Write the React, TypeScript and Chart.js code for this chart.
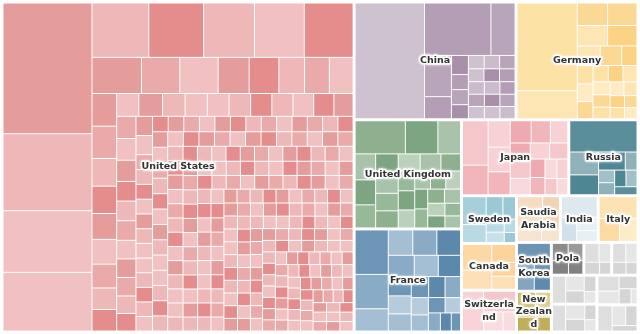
import React, { useEffect, useRef } from "react";
import { Chart, registerables } from "chart.js";

Chart.register(...registerables);

// ---------- DATA ----------
const countries = [
  "United States", "China", "Germany", "United Kingdom", "France", "Japan", "Russia",
  "Sweden", "Canada", "Switzerland", "Saudia Arabia", "India", "Italy", "South Korea",
  "New Zealand", "Poland", "Other A", "Other B", "Other C", "Other D", "Other E", "Other F",
];

const countryValues = [
  114.5, 18.79, 14.15, 11.56, 10.91, 8.03, 5.18,
  2.59, 2.53, 2.26, 2.02, 1.74, 1.83, 1.68,
  1.4, 1.05, 0.9, 0.85, 1.3, 1.25, 1.2, 1.1,
];

// text as displayed in each tile
const labelLines: string[][] = [
  ["United States"], ["China"], ["Germany"], ["United Kingdom"], ["France"], ["Japan"], ["Russia"],
  ["Sweden"], ["Canada"], ["Switzerla", "nd"], ["Saudia", "Arabia"], ["India"], ["Italy"], ["South", "Korea"],
  ["New", "Zealan", "d"], ["Pola"], [], [], [], [], [], [],
];

const unitedStatesCells = [
  11375, 6704, 5363, 5104,
  3021, 2915, 2703, 2650, 2597,
  1750, 1355, 1355, 1096, 1050, 910, 875, 840,
  790, 780, 670, 660, 625, 600, 575, 520, 520, 495,
  528, 506, 495, 484, 484, 473, 473, 462, 451, 429, 418,
  410, 400, 370, 370, 370, 350, 350, 350, 330, 330, 312, 312,
  242, 241, 241, 240, 240, 239, 239, 238, 238, 237, 237, 236, 236, 235, 235, 234, 234, 233, 233, 232, 232, 231, 231, 230, 230,
  229, 229, 228, 228, 227, 227, 226, 226, 225, 225, 224, 224, 223, 223, 222, 222, 221, 221, 220, 220, 219, 219, 218, 218, 217,
  217, 216, 216, 215, 215, 214, 214, 213, 213, 212, 212, 211, 211, 210, 210, 209, 209, 208, 208, 207, 207, 206, 206, 205, 205,
  204, 204, 203, 203, 202, 202, 201, 201, 200, 200, 199, 199, 198, 198, 197, 197, 196, 196, 195, 195, 194, 194, 193, 193, 192,
  192, 191, 191, 190, 190, 189, 189, 188, 188, 187, 187, 186, 186, 185, 185, 184, 184, 183, 183, 182, 182, 181, 181, 180, 180,
  179, 179, 178, 178, 177, 177, 176, 176, 175, 175, 174, 174, 173, 173, 172, 172, 171, 171, 170, 170, 169, 169, 168, 168, 167,
  167, 166, 166, 165, 165, 164, 164, 163, 163, 162, 162, 161, 161, 160, 160, 159, 159, 158, 158, 157, 157, 156, 156, 155, 155,
  154, 154, 153, 153, 152, 152, 151, 151, 150, 150, 149, 149, 148, 148, 147, 147, 146, 146, 145, 145, 144, 144, 143, 143, 142,
  142, 141, 141, 140, 140, 139, 139, 139, 138, 138, 137, 137, 137, 136, 136, 135, 135, 135, 134, 134, 133, 133, 133, 132, 132,
  131, 131, 131, 130, 130, 129, 129, 129, 128, 128, 127, 127, 127, 126, 126, 125, 125, 125, 124, 124, 123, 123, 123, 122, 122,
];
const chinaCells = [8004, 3476, 1262, 1107, 594, 323, 255, 255, 238, 210, 205, 205, 200, 200, 200, 200, 195, 195, 195, 190, 190, 190, 185, 185];
const germanyCells = [5280, 1680, 682, 660, 620, 600, 450, 420, 300, 290, 280, 270, 250, 240, 230, 220, 210, 200, 190, 180, 170, 160, 150, 140];
const unitedKingdomCells = [1683, 1089, 759, 540, 520, 480, 460, 440, 400, 390, 380, 360, 340, 330, 320, 300, 290, 280, 270, 260, 250, 240, 230, 220, 210, 200, 190];
const franceCells = [1496, 1156, 748, 630, 620, 610, 560, 520, 480, 450, 420, 400, 370, 350, 330, 300, 280, 260, 240, 220, 200, 170];
const japanCells = [1170, 780, 600, 560, 520, 480, 440, 400, 380, 350, 340, 320, 300, 280, 260, 240, 220, 200, 180];
const russiaCells = [2176, 680, 590, 500, 220, 210, 200, 195, 190, 185];
const swedenCells = [700, 450, 400, 300, 250, 200, 160, 120];
const canadaCells = [800, 600, 450, 350, 330];
const switzerlandCells = [900, 700, 400, 255];
const saudiArabiaCells = [900, 600, 300, 221];
const indiaCells = [800, 400, 300, 239];
const italyCells = [900, 500, 433];
const southKoreaCells = [700, 500, 480];
const newZealandCells = [500, 400, 300, 200];
const polandCells = [300, 280, 250, 224];
const otherACells = [300, 250, 200, 150];
const otherBCells = [280, 240, 180, 150];
const otherCCells = [400, 300, 250, 200, 150];
const otherDCells = [380, 300, 250, 180, 140];
const otherECells = [350, 300, 250, 200, 100];
const otherFCells = [400, 300, 250, 150];

const cellValues = [
  unitedStatesCells, chinaCells, germanyCells, unitedKingdomCells, franceCells, japanCells, russiaCells,
  swedenCells, canadaCells, switzerlandCells, saudiArabiaCells, indiaCells, italyCells, southKoreaCells,
  newZealandCells, polandCells, otherACells, otherBCells, otherCCells, otherDCells, otherECells, otherFCells,
];

// ---------- STYLE ----------
const greyPalette = ["#dedede", "#e6e6e6", "#d5d5d5", "#ececec", "#e1e1e1"];
const palettes = [
  ["#e59d9b", "#efb8b8", "#f1c0c0", "#e58d8d", "#eaaaaa"],
  ["#cec1d0", "#b49eb5", "#b9a5ba", "#a990aa", "#cbbccc"],
  ["#fde2a6", "#fde6b3", "#fbd894", "#fcd385", "#feebc4"],
  ["#8fb08f", "#7da582", "#a8c3a9", "#97b899", "#bcd1bc"],
  ["#6d96b6", "#89abc5", "#a4bfd3", "#5b88ab", "#b6ccdc"],
  ["#f5c6ca", "#f1b5ba", "#f7d1d4", "#eeaab0", "#f9dadc"],
  ["#5a8e9b", "#8eb1ba", "#4f8693", "#a2c0c7", "#6d9ca7"],
  ["#a7cfdb", "#b9dae3", "#9cc7d5", "#c8e1e9", "#add3de"],
  ["#fdd8a5", "#fde0b5", "#fcd39b", "#fee6c3", "#fddcae"],
  ["#f8d2d6", "#f5c6cb", "#fadce0", "#f7cdd2", "#fbe3e5"],
  ["#f5dcc1", "#f2d3b3", "#f7e4cf", "#f0cfab", "#f8e8d6"],
  ["#dee8f1", "#d2e0ec", "#e8eff5", "#cddbe8", "#e3ebf2"],
  ["#fde2b3", "#fcdba2", "#feebc7", "#fbd596", "#fde6bc"],
  ["#6c95b5", "#82a5c1", "#5d8aad", "#93b1ca", "#7499b8"],
  ["#c9bb6d", "#d7cc8f", "#bfae5a", "#ddd39c", "#cfc27c"],
  ["#8c8c8c", "#9a9a9a", "#818181", "#a5a5a5", "#939393"],
  greyPalette, greyPalette, greyPalette, greyPalette, greyPalette, greyPalette,
];
const shadePattern = [0, 1, 2, 2, 1, 3, 1, 2, 3, 0, 4, 2, 0, 3, 1, 4, 2, 0, 4, 1, 3, 0, 2, 4, 1, 3, 2];

const PLOT_W = 636;
const PLOT_H = 330;

type Rect = { x0: number; y0: number; x1: number; y1: number };

function squarify(values: number[], r: Rect): Rect[] {
  const total = values.reduce((a, b) => a + b, 0);
  let { x0, y0, x1, y1 } = r;
  const area = Math.max(0, x1 - x0) * Math.max(0, y1 - y0);
  const k = total > 0 ? area / total : 0;
  const items = values.map((v) => v * k);
  const out: Rect[] = [];
  const n = items.length;
  let i = 0;
  while (i < n) {
    const dx = x1 - x0;
    const dy = y1 - y0;
    const side = Math.min(dx, dy);
    const worst = (s: number, mn: number, mx: number) => {
      const s2 = side * side;
      const r2 = s * s;
      return Math.max((s2 * mx) / r2, r2 / (s2 * mn));
    };
    let sum = items[i];
    let mn = items[i];
    let mx = items[i];
    let best = worst(sum, mn, mx);
    let j = i + 1;
    while (j < n) {
      const v = items[j];
      const ns = sum + v;
      const nmn = Math.min(mn, v);
      const nmx = Math.max(mx, v);
      const w = worst(ns, nmn, nmx);
      if (w > best) break;
      sum = ns; mn = nmn; mx = nmx; best = w; j++;
    }
    const thick = side > 0 ? sum / side : 0;
    const last = j === n;
    if (dx < dy) {
      let x = x0;
      const ye = last ? y1 : y0 + thick;
      for (let t = i; t < j; t++) {
        const w = thick > 0 ? items[t] / thick : 0;
        const xe = t === j - 1 ? x1 : x + w;
        out.push({ x0: x, y0, x1: xe, y1: ye });
        x = xe;
      }
      y0 = ye;
    } else {
      let y = y0;
      const xe = last ? x1 : x0 + thick;
      for (let t = i; t < j; t++) {
        const h = thick > 0 ? items[t] / thick : 0;
        const ye = t === j - 1 ? y1 : y + h;
        out.push({ x0, y0: y, x1: xe, y1: ye });
        y = ye;
      }
      x0 = xe;
    }
    i = j;
  }
  return out;
}

const treemapPlugin = {
  id: "treemapTiles",
  afterDatasetsDraw(chart: any) {
    const xs = chart.scales.x;
    const ys = chart.scales.y;
    const ctx: CanvasRenderingContext2D = chart.ctx;
    const toPx = (r: Rect) => {
      const a = xs.getPixelForValue(r.x0);
      const b = xs.getPixelForValue(r.x1);
      const c = ys.getPixelForValue(r.y0);
      const d = ys.getPixelForValue(r.y1);
      return { l: Math.min(a, b), r: Math.max(a, b), t: Math.min(c, d), b: Math.max(c, d) };
    };
    const groups = squarify(countryValues, { x0: xs.min, y0: ys.min, x1: xs.max, y1: ys.max });
    ctx.save();
    groups.forEach((g, gi) => {
      const inner = { x0: g.x0 + 1, y0: g.y0 + 1, x1: g.x1 - 1, y1: g.y1 - 1 };
      const cells = squarify(cellValues[gi], inner);
      const pal = palettes[gi];
      cells.forEach((c, ci) => {
        const p = toPx(c);
        ctx.fillStyle = pal[shadePattern[ci % shadePattern.length] % pal.length];
        ctx.fillRect(p.l + 0.5, p.t + 0.5, Math.max(0, p.r - p.l - 1), Math.max(0, p.b - p.t - 1));
      });
    });
    // labels
    ctx.font = 'bold 9.5px "DejaVu Sans", Verdana, sans-serif';
    ctx.textAlign = "center";
    ctx.textBaseline = "middle";
    ctx.lineJoin = "round";
    const lineH = 12.5;
    groups.forEach((g, gi) => {
      const lines = labelLines[gi];
      if (!lines || !lines.length) return;
      const p = toPx(g);
      const cx = (p.l + p.r) / 2;
      const cy = (p.t + p.b) / 2;
      const y0 = cy - ((lines.length - 1) * lineH) / 2;
      lines.forEach((ln, li) => {
        const y = y0 + li * lineH;
        ctx.shadowColor = "rgba(255,255,255,0.9)";
        ctx.shadowBlur = 3;
        ctx.strokeStyle = "rgba(255,255,255,0.95)";
        ctx.lineWidth = 3.5;
        ctx.strokeText(ln, cx, y);
        ctx.shadowBlur = 0;
        ctx.fillStyle = "#333333";
        ctx.fillText(ln, cx, y);
      });
    });
    ctx.restore();
  },
};

export default function App() {
  const ref = useRef<HTMLCanvasElement>(null);
  useEffect(() => {
    if (!ref.current) return;
    const chart = new Chart(ref.current, {
      type: "scatter",
      data: { datasets: [{ label: "tiles", data: [], pointRadius: 0 }] },
      options: {
        animation: false,
        responsive: false,
        maintainAspectRatio: false,
        layout: { padding: 2 },
        scales: {
          x: { type: "linear", min: 0, max: PLOT_W, display: false },
          y: { type: "linear", min: 0, max: PLOT_H, reverse: true, display: false },
        },
        plugins: { legend: { display: false }, tooltip: { enabled: false } },
      },
      plugins: [treemapPlugin],
    } as any);
    return () => chart.destroy();
  }, []);
  return (
    <div style={{ position: "fixed", left: 0, top: 0, width: 640, height: 334, background: "#ffffff" }}>
      <canvas ref={ref} width={640} height={334} style={{ display: "block" }} />
    </div>
  );
}
